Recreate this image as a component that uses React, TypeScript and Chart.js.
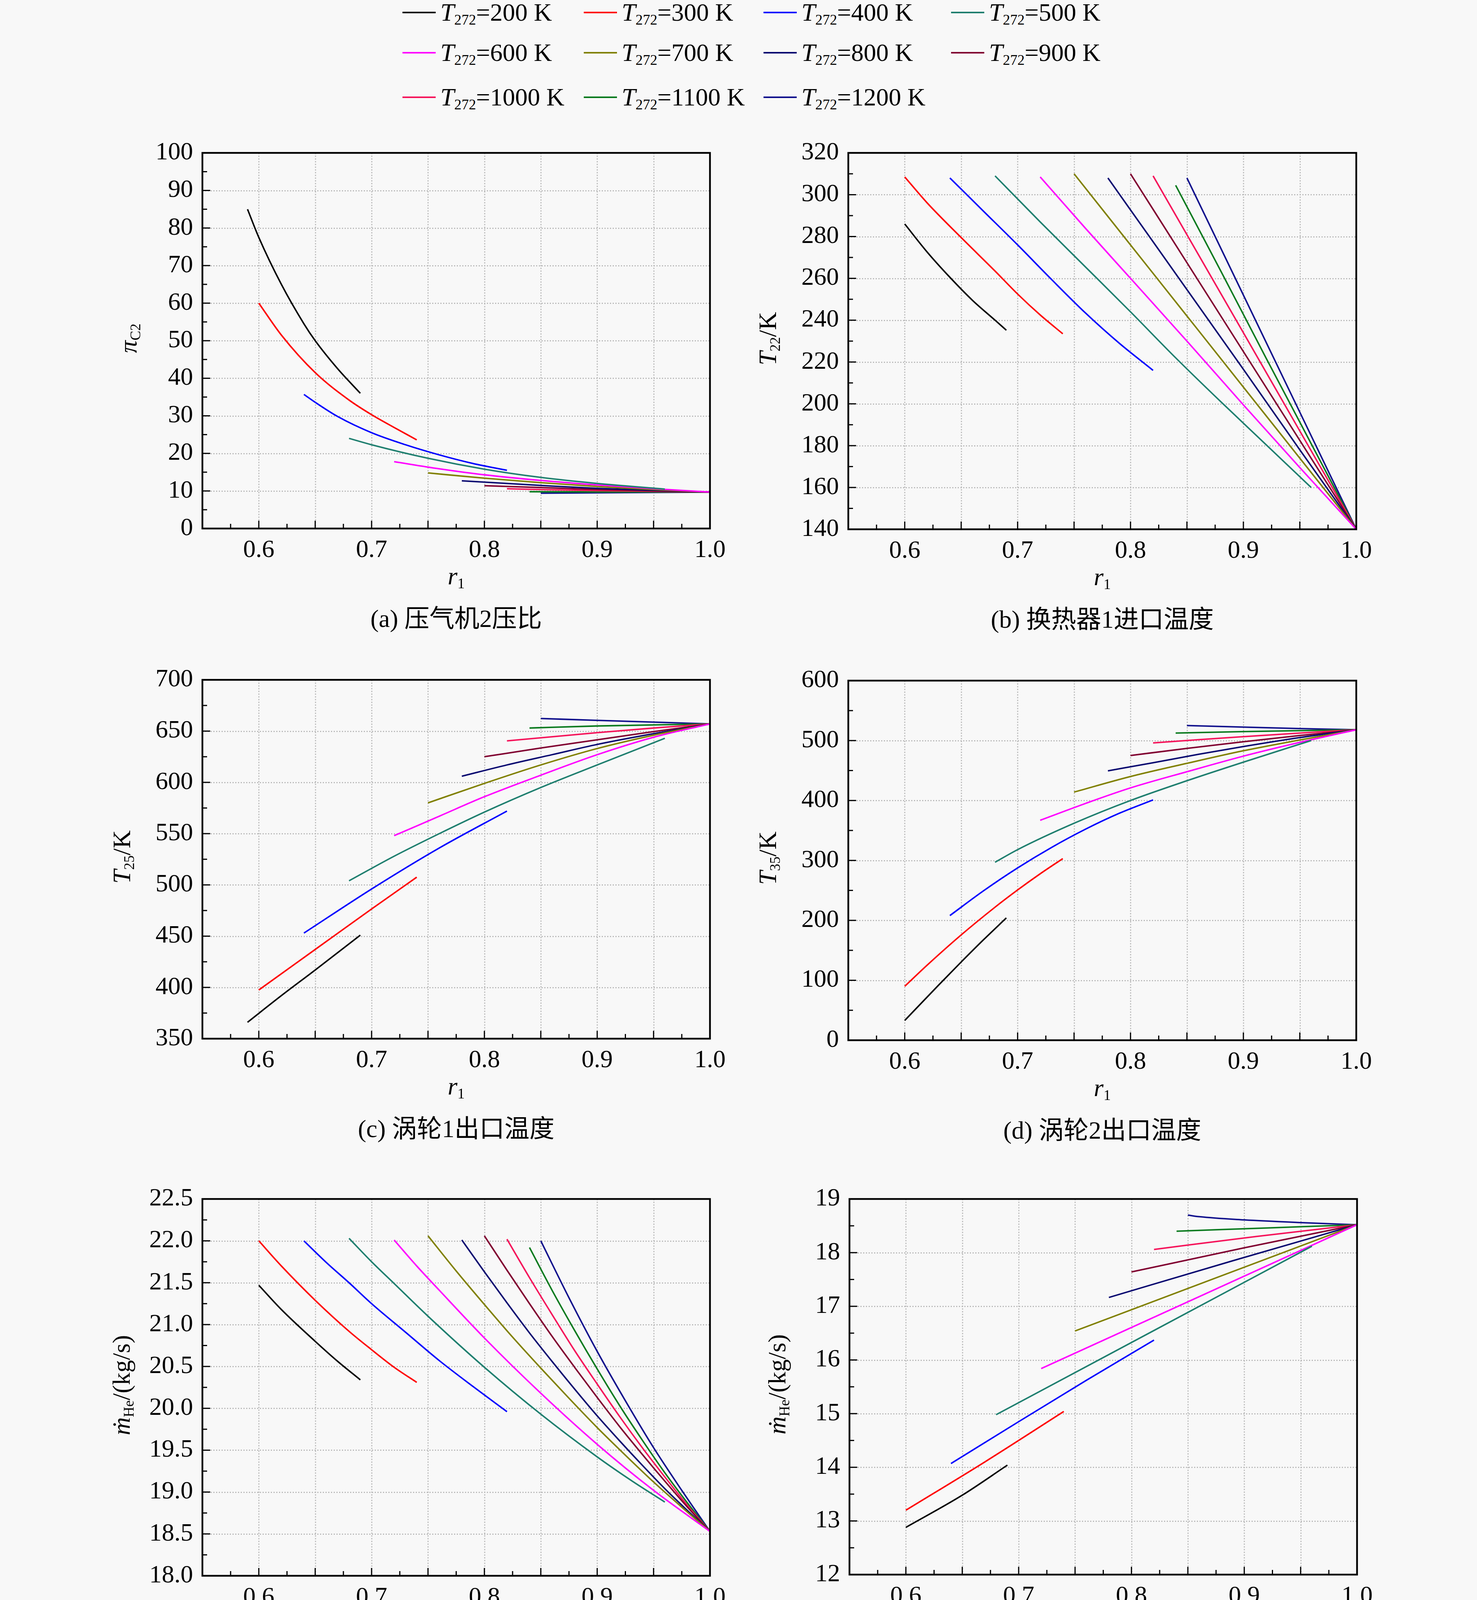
import React, { useEffect, useRef } from 'react';
import { Chart, registerables } from 'chart.js';

Chart.register(...registerables);

type Pt = [number, number];

// ---------- data ----------
const temps: number[] = [200, 300, 400, 500, 600, 700, 800, 900, 1000, 1100, 1200];
const seriesColors: string[] = [
  '#000000', '#FF0000', '#0000FF', '#1F7F6F', '#FF00FF', '#808000',
  '#0A0A70', '#800030', '#F5145A', '#0A7A1E', '#10108C',
];

// (a) compressor 2 pressure ratio
const piC2: Pt[][] = [
  [[0.59, 85], [0.60, 77.5], [0.62, 65], [0.64, 54.5], [0.65, 50], [0.67, 42.5], [0.69, 36]],
  [[0.60, 60], [0.62, 51.5], [0.65, 41.5], [0.68, 34.2], [0.70, 30.3], [0.72, 26.9], [0.74, 23.6]],
  [[0.64, 35.7], [0.65, 33.6], [0.67, 29.8], [0.70, 25.5], [0.73, 22.3], [0.76, 19.6], [0.79, 17.3], [0.82, 15.5]],
  [[0.68, 24], [0.70, 22.3], [0.75, 18.7], [0.80, 15.8], [0.85, 13.6], [0.90, 12.0], [0.96, 10.5]],
  [[0.72, 17.8], [0.76, 15.9], [0.80, 14.3], [0.85, 12.8], [0.90, 11.6], [0.95, 10.6], [1.0, 9.7]],
  [[0.75, 14.8], [0.80, 13.4], [0.85, 12.2], [0.90, 11.2], [0.95, 10.4], [1.0, 9.7]],
  [[0.78, 12.7], [0.82, 12.0], [0.86, 11.3], [0.90, 10.7], [0.95, 10.2], [1.0, 9.7]],
  [[0.80, 11.4], [0.85, 10.9], [0.90, 10.4], [0.95, 10.0], [1.0, 9.7]],
  [[0.82, 10.6], [0.86, 10.3], [0.90, 10.1], [0.95, 9.9], [1.0, 9.7]],
  [[0.84, 9.8], [0.90, 9.75], [1.0, 9.7]],
  [[0.85, 9.4], [0.90, 9.5], [0.95, 9.6], [1.0, 9.7]],
];

// (b) heat exchanger 1 inlet temperature T22
const t22: Pt[][] = [
  [[0.60, 286], [0.62, 272.5], [0.64, 260.5], [0.66, 249.5], [0.68, 240], [0.69, 235.2]],
  [[0.60, 308.5], [0.62, 296], [0.65, 279.5], [0.68, 263.5], [0.70, 252.5], [0.72, 242.5], [0.74, 233.5]],
  [[0.64, 308], [0.67, 292], [0.70, 276], [0.73, 259.5], [0.76, 243.5], [0.79, 229], [0.82, 216]],
  [[0.68, 309], [0.72, 287], [0.76, 265.5], [0.80, 244], [0.84, 222], [0.88, 201], [0.92, 180.5], [0.96, 160]],
  [[0.72, 308.5], [0.76, 284], [0.80, 260], [0.85, 230], [0.90, 199.5], [0.95, 169.5], [1.0, 140]],
  [[0.75, 310], [0.80, 276], [0.85, 242], [0.90, 208], [0.95, 174], [1.0, 140]],
  [[0.78, 308], [0.82, 277.5], [0.86, 247], [0.90, 216.5], [0.95, 178], [1.0, 140]],
  [[0.80, 310], [0.85, 267.5], [0.90, 225], [0.95, 182.5], [1.0, 140]],
  [[0.82, 309], [0.86, 271.5], [0.90, 234], [0.95, 187], [1.0, 140]],
  [[0.84, 304.5], [0.88, 263.5], [0.92, 222], [0.96, 181], [1.0, 140]],
  [[0.85, 308], [0.90, 252], [0.95, 196], [1.0, 140]],
];

// (c) turbine 1 outlet temperature T25
const t25: Pt[][] = [
  [[0.59, 366], [0.62, 392], [0.65, 417], [0.69, 451]],
  [[0.60, 397.5], [0.65, 437], [0.70, 476.5], [0.74, 507.5]],
  [[0.64, 453], [0.70, 496], [0.76, 536], [0.82, 572]],
  [[0.68, 504], [0.72, 528], [0.76, 550], [0.80, 571], [0.85, 595], [0.90, 617], [0.96, 643]],
  [[0.72, 548], [0.76, 567], [0.80, 586], [0.85, 607], [0.90, 627], [0.95, 644], [1.0, 657]],
  [[0.75, 580], [0.80, 599], [0.85, 617], [0.90, 633], [0.95, 646], [1.0, 657]],
  [[0.78, 606], [0.82, 617], [0.86, 627], [0.90, 637], [0.95, 647.5], [1.0, 657]],
  [[0.80, 625], [0.85, 633.5], [0.90, 641.5], [0.95, 649.5], [1.0, 657]],
  [[0.82, 640.5], [0.86, 644.5], [0.90, 648.5], [0.95, 653], [1.0, 657]],
  [[0.84, 653], [0.90, 655], [1.0, 657]],
  [[0.85, 662.3], [0.90, 660.5], [0.95, 658.8], [1.0, 657]],
];

// (d) turbine 2 outlet temperature T35
const t35: Pt[][] = [
  [[0.60, 33], [0.63, 92], [0.65, 130.5], [0.67, 168], [0.69, 204]],
  [[0.60, 90], [0.62, 125.5], [0.65, 175.7], [0.68, 222], [0.70, 250.7], [0.72, 277.7], [0.74, 303]],
  [[0.64, 208], [0.67, 249.6], [0.70, 287.5], [0.73, 321.6], [0.76, 352], [0.79, 378.6], [0.82, 401]],
  [[0.68, 297], [0.70, 318], [0.75, 362], [0.80, 400], [0.85, 433], [0.90, 464], [0.96, 500]],
  [[0.72, 367], [0.76, 395], [0.80, 421], [0.85, 448], [0.90, 474], [0.95, 497], [1.0, 518]],
  [[0.75, 414], [0.80, 440], [0.85, 462], [0.90, 483], [0.95, 501], [1.0, 518]],
  [[0.78, 449.5], [0.82, 463], [0.86, 477], [0.90, 490], [0.95, 505], [1.0, 518]],
  [[0.80, 475], [0.85, 487], [0.90, 498], [0.95, 508.5], [1.0, 518]],
  [[0.82, 496], [0.86, 501.5], [0.90, 506.5], [0.95, 512.5], [1.0, 518]],
  [[0.84, 512.5], [0.90, 515], [1.0, 518]],
  [[0.85, 525], [0.90, 522.5], [0.95, 520], [1.0, 518]],
];

// (e) total helium mass flow
const mHeTotal: Pt[][] = [
  [[0.60, 21.47], [0.62, 21.18], [0.65, 20.8], [0.67, 20.56], [0.69, 20.34]],
  [[0.60, 22.0], [0.62, 21.7], [0.65, 21.29], [0.68, 20.92], [0.70, 20.7], [0.72, 20.49], [0.74, 20.31]],
  [[0.64, 22.0], [0.66, 21.74], [0.68, 21.5], [0.70, 21.25], [0.73, 20.91], [0.76, 20.57], [0.79, 20.26], [0.82, 19.96]],
  [[0.68, 22.03], [0.70, 21.75], [0.72, 21.49], [0.75, 21.1], [0.80, 20.49], [0.85, 19.93], [0.90, 19.42], [0.93, 19.14], [0.96, 18.88]],
  [[0.72, 22.01], [0.74, 21.7], [0.76, 21.41], [0.80, 20.84], [0.85, 20.18], [0.90, 19.57], [0.95, 19.02], [1.0, 18.53]],
  [[0.75, 22.06], [0.775, 21.64], [0.80, 21.24], [0.825, 20.85], [0.85, 20.48], [0.875, 20.12], [0.90, 19.77], [0.925, 19.44], [0.95, 19.12], [0.975, 18.82], [1.0, 18.53]],
  [[0.78, 22.01], [0.80, 21.63], [0.82, 21.26], [0.84, 20.9], [0.86, 20.56], [0.88, 20.23], [0.90, 19.91], [0.92, 19.61], [0.94, 19.32], [0.96, 19.04], [0.98, 18.78], [1.0, 18.53]],
  [[0.80, 22.06], [0.82, 21.65], [0.84, 21.25], [0.86, 20.86], [0.88, 20.49], [0.90, 20.13], [0.92, 19.78], [0.94, 19.45], [0.96, 19.13], [0.98, 18.82], [1.0, 18.53]],
  [[0.82, 22.02], [0.84, 21.56], [0.86, 21.12], [0.88, 20.69], [0.90, 20.29], [0.92, 19.9], [0.94, 19.53], [0.96, 19.18], [0.98, 18.84], [1.0, 18.53]],
  [[0.84, 21.92], [0.86, 21.41], [0.88, 20.93], [0.90, 20.47], [0.92, 20.03], [0.94, 19.62], [0.96, 19.23], [0.98, 18.87], [1.0, 18.53]],
  [[0.85, 22.0], [0.875, 21.32], [0.90, 20.68], [0.925, 20.09], [0.95, 19.53], [0.975, 19.02], [1.0, 18.53]],
];

// (f) heat exchanger 3 helium flow
const mHeHx3: Pt[][] = [
  [[0.60, 12.88], [0.65, 13.48], [0.69, 14.04]],
  [[0.60, 13.2], [0.67, 14.1], [0.74, 15.04]],
  [[0.64, 14.07], [0.70, 14.85], [0.76, 15.62], [0.82, 16.37]],
  [[0.68, 14.98], [0.82, 16.55], [0.96, 18.12]],
  [[0.72, 15.84], [0.86, 17.18], [1.0, 18.52]],
  [[0.75, 16.54], [0.875, 17.53], [1.0, 18.52]],
  [[0.78, 17.165], [0.89, 17.85], [1.0, 18.52]],
  [[0.80, 17.64], [0.90, 18.09], [1.0, 18.52]],
  [[0.82, 18.06], [0.91, 18.3], [1.0, 18.52]],
  [[0.84, 18.40], [0.92, 18.46], [1.0, 18.52]],
  [[0.85, 18.70], [0.86, 18.67], [0.90, 18.61], [0.95, 18.56], [1.0, 18.52]],
];

const xRange: number[] = [0.55, 1.0];
const captions: string[] = [
  '(a) 压气机2压比', '(b) 换热器1进口温度', '(c) 涡轮1出口温度',
  '(d) 涡轮2出口温度', '(e) 氦气总流量', '(f) 换热器3氦流量',
];

// ---------- layout / style ----------
const SERIF = '"Liberation Serif", "DejaVu Serif", "Noto Sans CJK SC", serif';
const FONT = 64;
const PAD_L = 260, PAD_T = 50, PAD_R = 80, PAD_B = 160;
const BG = '#f8f8f8';

const sub = (t: string) => (
  <sub style={{ fontSize: '0.58em', fontStyle: 'normal', fontWeight: 'normal', lineHeight: 0, verticalAlign: '-0.28em' }}>{t}</sub>
);

type PanelCfg = {
  series: Pt[][];
  l: number; t: number; r: number; b: number;
  yMin: number; yMax: number; yStep: number; dec: number;
  title: React.ReactNode; titleOff: number; caption: string;
};

const panels: PanelCfg[] = [
  { series: piC2, l: 518, t: 379, r: 1817, b: 1353, yMin: 0, yMax: 100, yStep: 10, dec: 0,
    title: <span><i>π</i>{sub('C2')}</span>, titleOff: 190, caption: captions[0] },
  { series: t22, l: 2171, t: 379, r: 3471, b: 1355, yMin: 140, yMax: 320, yStep: 20, dec: 0,
    title: <span><i>T</i>{sub('22')}/K</span>, titleOff: 206, caption: captions[1] },
  { series: t25, l: 518, t: 1728, r: 1817, b: 2659, yMin: 350, yMax: 700, yStep: 50, dec: 0,
    title: <span><i>T</i>{sub('25')}/K</span>, titleOff: 206, caption: captions[2] },
  { series: t35, l: 2171, t: 1730, r: 3471, b: 2663, yMin: 0, yMax: 600, yStep: 100, dec: 0,
    title: <span><i>T</i>{sub('35')}/K</span>, titleOff: 206, caption: captions[3] },
  { series: mHeTotal, l: 518, t: 3057, r: 1817, b: 4034, yMin: 18, yMax: 22.5, yStep: 0.5, dec: 1,
    title: <span><i>ṁ</i>{sub('He')}/(kg/s)</span>, titleOff: 207, caption: captions[4] },
  { series: mHeHx3, l: 2174, t: 3057, r: 3473, b: 4031, yMin: 12, yMax: 19, yStep: 1, dec: 0,
    title: <span><i>ṁ</i>{sub('He')}/(kg/s)</span>, titleOff: 185, caption: captions[5] },
];

const framePlugin = {
  id: 'frame',
  beforeDatasetsDraw(chart: any, _a: any, opts: any) {
    const { ctx, chartArea: a, scales } = chart;
    const x = scales.x, y = scales.y;
    ctx.save();
    ctx.strokeStyle = '#b9b9b9';
    ctx.lineWidth = 3;
    ctx.setLineDash([3, 4]);
    const nx = Math.round((x.max - x.min) / opts.xStep);
    for (let i = 1; i < nx; i++) {
      const px = Math.round(x.getPixelForValue(x.min + i * opts.xStep)) + 0.5;
      ctx.beginPath(); ctx.moveTo(px, a.top); ctx.lineTo(px, a.bottom); ctx.stroke();
    }
    const ny = Math.round((y.max - y.min) / opts.yStep);
    for (let i = 1; i < ny; i++) {
      const py = Math.round(y.getPixelForValue(y.min + i * opts.yStep)) + 0.5;
      ctx.beginPath(); ctx.moveTo(a.left, py); ctx.lineTo(a.right, py); ctx.stroke();
    }
    ctx.restore();
  },
  afterDatasetsDraw(chart: any, _a: any, opts: any) {
    const { ctx, chartArea: a, scales } = chart;
    const x = scales.x, y = scales.y;
    ctx.save();
    ctx.strokeStyle = '#000';
    ctx.lineWidth = 3;
    ctx.setLineDash([]);
    const nx = Math.round((x.max - x.min) / (opts.xStep / 2));
    for (let i = 1; i < nx; i++) {
      const px = x.getPixelForValue(x.min + i * opts.xStep / 2);
      const len = i % 2 === 0 ? 20 : 12;
      ctx.beginPath(); ctx.moveTo(px, a.bottom); ctx.lineTo(px, a.bottom - len); ctx.stroke();
    }
    const ny = Math.round((y.max - y.min) / (opts.yStep / 2));
    for (let i = 1; i < ny; i++) {
      const py = y.getPixelForValue(y.min + i * opts.yStep / 2);
      const len = i % 2 === 0 ? 20 : 12;
      ctx.beginPath(); ctx.moveTo(a.left, py); ctx.lineTo(a.left + len, py); ctx.stroke();
    }
    ctx.lineWidth = 4.5;
    ctx.strokeRect(a.left, a.top, a.right - a.left, a.bottom - a.top);
    ctx.restore();
  },
};

function Panel({ cfg }: { cfg: PanelCfg }) {
  const ref = useRef<HTMLCanvasElement>(null);
  const W = cfg.r - cfg.l + PAD_L + PAD_R;
  const H = cfg.b - cfg.t + PAD_T + PAD_B;
  useEffect(() => {
    const chart = new Chart(ref.current as HTMLCanvasElement, {
      type: 'line',
      data: {
        datasets: cfg.series.map((pts, i) => ({
          label: `T272=${temps[i]} K`,
          data: pts.map(([px, py]) => ({ x: px, y: py })),
          borderColor: seriesColors[i],
          backgroundColor: seriesColors[i],
          borderWidth: 3.8,
          pointRadius: 0,
          fill: false,
          cubicInterpolationMode: 'monotone' as const,
        })),
      },
      options: {
        responsive: false,
        animation: false,
        devicePixelRatio: 1,
        layout: { padding: { left: 0, top: PAD_T, right: PAD_R, bottom: 0 } },
        plugins: {
          legend: { display: false },
          tooltip: { enabled: false },
          frame: { xStep: 0.05, yStep: cfg.yStep },
        } as any,
        scales: {
          x: {
            type: 'linear',
            min: xRange[0],
            max: xRange[1],
            afterFit: (s: any) => { s.height = PAD_B; },
            grid: { display: false, drawTicks: false },
            border: { display: false },
            ticks: {
              stepSize: 0.05,
              autoSkip: false,
              maxRotation: 0,
              padding: 18,
              color: '#000',
              font: { family: SERIF, size: FONT },
              callback: (v: any) => {
                const k = Math.round(Number(v) * 100);
                return k % 10 === 0 ? (k / 100).toFixed(1) : '';
              },
            },
          },
          y: {
            type: 'linear',
            min: cfg.yMin,
            max: cfg.yMax,
            afterFit: (s: any) => { s.width = PAD_L; },
            grid: { display: false, drawTicks: false },
            border: { display: false },
            ticks: {
              stepSize: cfg.yStep,
              autoSkip: false,
              padding: 24,
              color: '#000',
              font: { family: SERIF, size: FONT },
              callback: (v: any) => Number(v).toFixed(cfg.dec),
            },
          },
        },
      },
      plugins: [framePlugin],
    } as any);
    return () => chart.destroy();
  }, [cfg]);

  const cx = (cfg.l + cfg.r) / 2;
  const cy = (cfg.t + cfg.b) / 2;
  return (
    <>
      <canvas ref={ref} width={W} height={H}
        style={{ position: 'absolute', left: cfg.l - PAD_L, top: cfg.t - PAD_T, width: W, height: H }} />
      <div style={{ position: 'absolute', left: cx - 300, width: 600, top: cfg.b + 90, lineHeight: '64px',
        textAlign: 'center', fontFamily: SERIF, fontSize: FONT, whiteSpace: 'nowrap' }}>
        <i>r</i>{sub('1')}
      </div>
      <div style={{ position: 'absolute', left: cfg.l - cfg.titleOff - 400, width: 800, top: cy - 32,
        lineHeight: '64px', textAlign: 'center', fontFamily: SERIF, fontSize: FONT, whiteSpace: 'nowrap',
        transform: 'rotate(-90deg)', transformOrigin: '50% 50%' }}>
        {cfg.title}
      </div>
      <div style={{ position: 'absolute', left: cx - 600, width: 1200, top: cfg.b + 231 - 32, lineHeight: '64px',
        textAlign: 'center', fontFamily: SERIF, fontSize: FONT, whiteSpace: 'nowrap' }}>
        {cfg.caption}
      </div>
    </>
  );
}

const legendRows: number[] = [32, 135, 249];
const legendCols: number[] = [1030, 1494, 1954, 2434];

function Legend() {
  return (
    <>
      {temps.map((tk, i) => {
        const row = Math.floor(i / 4);
        const col = i % 4;
        const x0 = legendCols[col];
        const cy = legendRows[row];
        return (
          <React.Fragment key={tk}>
            <div style={{ position: 'absolute', left: x0, top: cy - 2, width: 85, height: 4, background: seriesColors[i] }} />
            <div style={{ position: 'absolute', left: x0 + 97, top: cy - 32, lineHeight: '64px', fontFamily: SERIF,
              fontSize: FONT, whiteSpace: 'nowrap' }}>
              <i>T</i>{sub('272')}={tk} K
            </div>
          </React.Fragment>
        );
      })}
    </>
  );
}

export default function App() {
  return (
    <div style={{ position: 'absolute', left: 0, top: 0, width: 3780, height: 4313, background: BG,
      overflow: 'hidden', color: '#000' }}>
      <Legend />
      {panels.map((p, i) => <Panel key={i} cfg={p} />)}
    </div>
  );
}
